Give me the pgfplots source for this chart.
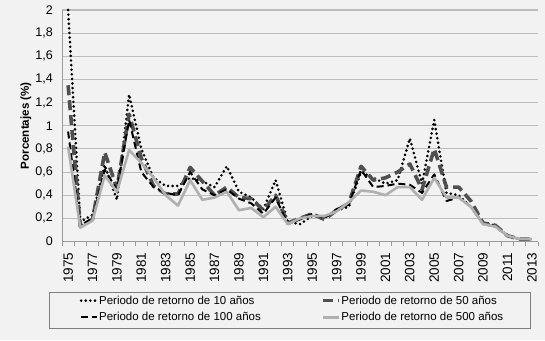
\documentclass[border=0pt]{standalone}
\usepackage{pgfplots}
\pgfplotsset{compat=1.18}
\usepackage{fontspec}
\setmainfont{Liberation Sans}
\definecolor{bg}{HTML}{F2F2F2}
\definecolor{gridc}{HTML}{BDBDBD}
\definecolor{axc}{HTML}{9A9A9A}
\definecolor{dgray}{HTML}{505050}
\definecolor{lgray}{HTML}{B0B0B0}
\definecolor{boxc}{HTML}{7F7F7F}

\pgfplotstableread{
year r10 r50 r100 r500
1975 2.00 1.35 0.95 0.82
1976 0.17 0.13 0.14 0.12
1977 0.23 0.19 0.20 0.18
1978 0.66 0.77 0.62 0.57
1979 0.36 0.46 0.45 0.43
1980 1.27 1.10 1.05 0.79
1981 0.80 0.72 0.60 0.68
1982 0.55 0.48 0.47 0.55
1983 0.48 0.41 0.42 0.40
1984 0.48 0.41 0.40 0.31
1985 0.55 0.64 0.60 0.53
1986 0.52 0.52 0.45 0.36
1987 0.47 0.40 0.40 0.38
1988 0.65 0.47 0.45 0.43
1989 0.43 0.38 0.37 0.27
1990 0.38 0.37 0.33 0.29
1991 0.28 0.27 0.24 0.21
1992 0.53 0.40 0.38 0.30
1993 0.17 0.16 0.15 0.15
1994 0.15 0.20 0.19 0.20
1995 0.22 0.24 0.24 0.22
1996 0.21 0.19 0.20 0.22
1997 0.27 0.27 0.28 0.26
1998 0.30 0.33 0.32 0.34
1999 0.60 0.65 0.62 0.44
2000 0.55 0.53 0.47 0.43
2001 0.50 0.55 0.48 0.40
2002 0.53 0.60 0.50 0.47
2003 0.89 0.67 0.49 0.47
2004 0.50 0.45 0.42 0.36
2005 1.05 0.80 0.58 0.55
2006 0.42 0.47 0.35 0.38
2007 0.40 0.47 0.38 0.38
2008 0.30 0.35 0.30 0.30
2009 0.16 0.16 0.15 0.15
2010 0.14 0.14 0.13 0.13
2011 0.05 0.05 0.05 0.05
2012 0.02 0.02 0.02 0.02
2013 0.02 0.02 0.02 0.02
}\datatable

\begin{document}
\begin{tikzpicture}
\fill[bg] (0pt,0pt) rectangle (545pt,340pt);
\useasboundingbox (0pt,0pt) rectangle (545pt,340pt);
\draw[boxc, line width=0.8pt] (49.5pt,48pt) rectangle (530pt,12pt);
\begin{axis}[
  at={(62pt,98.5pt)}, anchor=south west,
  scale only axis, width=476pt, height=231.5pt,
  xmin=1974.5, xmax=2013.5, ymin=0, ymax=2,
  clip=false,
  axis x line*=bottom, axis y line*=left,
  axis line style={draw=axc, line width=0.9pt},
  ymajorgrids, major grid style={draw=gridc, line width=1.1pt},
  ytick={0,0.2,0.4,0.6,0.8,1,1.2,1.4,1.6,1.8,2},
  xtick={1975,1977,...,2013},
  minor xtick={1974.5,1975.5,...,2013.5},
  major tick length=0pt, minor tick length=4pt,
  tick align=outside,
  xtick style={draw=none}, ytick style={draw=none},
  minor x tick style={draw=axc, line width=0.8pt},
  /pgf/number format/assume math mode=true,
  x tick label style={rotate=90, anchor=east, inner xsep=11pt, inner ysep=0pt,
    font=\fontsize{13.5}{15}\selectfont, /pgf/number format/1000 sep={}},
  y tick label style={inner xsep=0pt, xshift=-9pt,
    font=\fontsize{12.5}{14}\selectfont,
    /pgf/number format/use comma, /pgf/number format/fixed, /pgf/number format/precision=1},
  ylabel={Porcentajes (\%)},
  ylabel style={at={([xshift=-36pt]rel axis cs:0,0.5)}, anchor=center,
    font=\bfseries\fontsize{11.6}{14}\selectfont},
  legend columns=2,
  legend cell align=left,
  legend image code/.code={\draw[#1] (0pt,0pt) -- (16pt,0pt);},
  legend style={at={(0.0368,-0.229)}, anchor=north west, draw=none, fill=none,
    inner sep=0pt, row sep=5pt,
    font=\fontsize{11.5}{13}\selectfont,
    nodes={inner xsep=0.5pt, inner ysep=1pt},
    /tikz/every even column/.append style={column sep=60pt}},
]
\addplot[black, line width=2.9pt, line cap=round, dash pattern=on 0pt off 4.6pt, line join=round]
  table[x=year, y=r10] {\datatable};
\addlegendentry{Periodo de retorno de 10 años}
\addplot[dgray, line width=3.6pt, dash pattern=on 10pt off 5pt, line join=round]
  table[x=year, y=r50] {\datatable};
\addlegendentry{Periodo de retorno de 50 años}
\addplot[black, line width=2pt, dash pattern=on 7pt off 4pt, line join=round]
  table[x=year, y=r100] {\datatable};
\addlegendentry{Periodo de retorno de 100 años}
\addplot[lgray, line width=2.6pt, line join=round]
  table[x=year, y=r500] {\datatable};
\addlegendentry{Periodo de retorno de 500 años}
\end{axis}
\end{tikzpicture}
\end{document}
